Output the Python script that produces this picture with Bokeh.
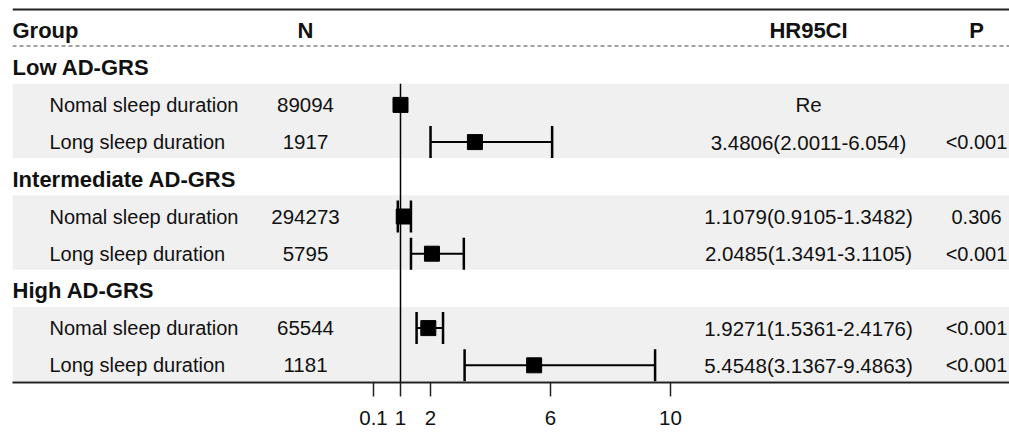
from bokeh.plotting import figure
from bokeh.models import Range1d, FixedTicker, Span, BoxAnnotation, ColumnDataSource
from bokeh.core.properties import value
from bokeh.embed import file_html
from bokeh.resources import INLINE

# ---------------- data ----------------
groups = ["Low AD-GRS", "Intermediate AD-GRS", "High AD-GRS"]
subgroups = ["Nomal sleep duration", "Long sleep duration"]
n_values = ["89094", "1917", "294273", "5795", "65544", "1181"]
hr = [1.0, 3.4806, 1.1079, 2.0485, 1.9271, 5.4548]
ci_low = [None, 2.0011, 0.9105, 1.3491, 1.5361, 3.1367]
ci_high = [None, 6.054, 1.3482, 3.1105, 2.4176, 9.4863]
hr_text = ["Re", "3.4806(2.0011-6.054)", "1.1079(0.9105-1.3482)",
           "2.0485(1.3491-3.1105)", "1.9271(1.5361-2.4176)", "5.4548(3.1367-9.4863)"]
p_text = ["", "<0.001", "0.306", "<0.001", "<0.001", "<0.001"]
headers = ["Group", "N", "HR95CI", "P"]
ticks = [0.1, 1, 2, 6, 10]
tick_labels = ["0.1", "1", "2", "6", "10"]

# ---------------- layout helpers ----------------
PX0, PXU = 370.0, 30.0          # page x of HR=0, pixels per HR unit
ROW0, ROWH = 30.0, 37.2         # page y of header row, row height
W, H = 1009, 435
FRAME_L, FRAME_B = 12, 382


def xd(px):
    return (px - PX0) / PXU


def yd(py):
    return (py - ROW0) / ROWH


FONT = value("Liberation Sans")
REG = "20px"
NUM = "20.5px"
BOLD = "22px"
INK = "#111111"

p = figure(width=W, height=H, output_backend="svg", toolbar_location=None,
           x_range=Range1d(xd(FRAME_L), xd(W)), y_range=Range1d(yd(FRAME_B), yd(0)),
           min_border_left=FRAME_L, min_border_right=0, min_border_top=0,
           min_border_bottom=H - FRAME_B)
p.outline_line_color = None
p.grid.visible = False
p.yaxis.visible = False
p.background_fill_color = "white"
p.border_fill_color = "white"

# rows
sub_rows, group_rows = [], []
for g in range(len(groups)):
    group_rows.append(1 + 3 * g)
    sub_rows.extend([2 + 3 * g, 3 + 3 * g])

# gray bands
for g in range(len(groups)):
    p.add_layout(BoxAnnotation(bottom=sub_rows[2 * g] - 0.57, top=sub_rows[2 * g + 1] + 0.43,
                               fill_color="#f0f0f0", fill_alpha=1.0, line_alpha=0,
                               level="underlay"))

# top rule and dashed header rule
p.add_layout(Span(location=yd(9), dimension="width", line_color="#222222", line_width=2))
p.add_layout(Span(location=yd(45.5), dimension="width", line_color="#444444", line_width=1,
                  line_dash="4 3"))

# reference line at HR = 1
p.segment(x0=[1], y0=[sub_rows[0] - 0.57], x1=[1], y1=[yd(FRAME_B)],
          line_color="black", line_width=1.5)

# confidence intervals
ci = ColumnDataSource(dict(
    y=[r for r, lo in zip(sub_rows, ci_low) if lo is not None],
    lo=[lo for lo in ci_low if lo is not None],
    hi=[hi for hi in ci_high if hi is not None]))
cap = 16 / ROWH
ci.data["ytop"] = [y - cap for y in ci.data["y"]]
ci.data["ybot"] = [y + cap for y in ci.data["y"]]
p.segment(x0="lo", y0="y", x1="hi", y1="y", source=ci, line_color="black", line_width=2)
p.segment(x0="lo", y0="ytop", x1="lo", y1="ybot", source=ci, line_color="black", line_width=2.5)
p.segment(x0="hi", y0="ytop", x1="hi", y1="ybot", source=ci, line_color="black", line_width=2.5)

# point estimates
p.scatter(x=hr, y=sub_rows, marker="square", size=15, fill_color="black", line_color="black")

# header texts
p.text(x=[xd(12)], y=[0], text=[headers[0]], text_font=FONT, text_font_size=BOLD,
       text_font_style="bold", text_align="left", text_baseline="middle", text_color=INK)
p.text(x=[xd(305), xd(808), xd(976)], y=[0, 0, 0], text=headers[1:], text_font=FONT,
       text_font_size=BOLD, text_font_style="bold", text_align="center",
       text_baseline="middle", text_color=INK)

# group titles
p.text(x=[xd(12)] * len(groups), y=group_rows, text=groups, text_font=FONT, text_font_size=BOLD,
       text_font_style="bold", text_align="left", text_baseline="middle", text_color=INK)

# subgroup rows
sub_labels = subgroups * len(groups)
p.text(x=[xd(49)] * len(sub_rows), y=sub_rows, text=sub_labels, text_font=FONT,
       text_font_size=REG, text_align="left", text_baseline="middle", text_color=INK)
p.text(x=[xd(305)] * len(sub_rows), y=sub_rows, text=n_values, text_font=FONT,
       text_font_size=NUM, text_align="center", text_baseline="middle", text_color=INK)
p.text(x=[xd(808)] * len(sub_rows), y=sub_rows, text=hr_text, text_font=FONT,
       text_font_size=NUM, text_align="center", text_baseline="middle", text_color=INK)
p.text(x=[xd(976)] * len(sub_rows), y=sub_rows, text=p_text, text_font=FONT,
       text_font_size=REG, text_align="center", text_baseline="middle", text_color=INK)

# x axis
ax = p.xaxis[0]
ax.ticker = FixedTicker(ticks=ticks)
ax.major_label_overrides = {t: l for t, l in zip(ticks, tick_labels)}
ax.minor_tick_line_color = None
ax.major_tick_in = 0
ax.major_tick_out = 14
ax.major_tick_line_width = 1.5
ax.major_tick_line_color = "#222222"
ax.axis_line_width = 2
ax.axis_line_color = "#222222"
ax.major_label_standoff = 14
ax.major_label_text_font = "Liberation Sans"
ax.major_label_text_font_size = NUM
ax.major_label_text_color = INK

open("out.html", "w").write(file_html(p, INLINE))
